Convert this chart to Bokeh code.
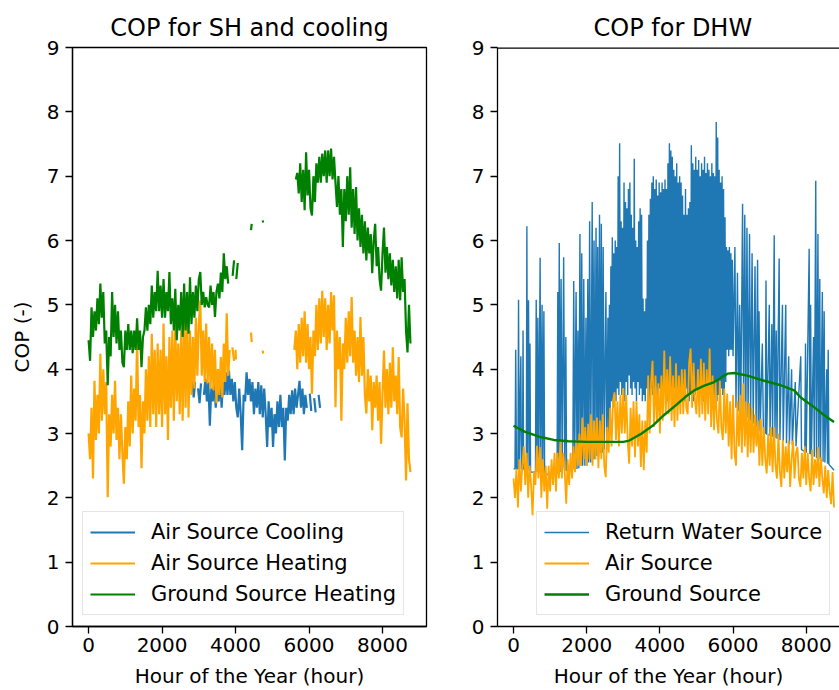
import numpy as np
from bokeh.plotting import figure
from bokeh.layouts import row
from bokeh.models import Range1d, Span, FixedTicker
from bokeh.embed import file_html
from bokeh.resources import INLINE

nan = float("nan")

titles = ["COP for SH and cooling", "COP for DHW"]
x_label = "Hour of the Year (hour)"
y_label = "COP (-)"
x_ticks = [0, 2000, 4000, 6000, 8000]
y_ticks = [0, 1, 2, 3, 4, 5, 6, 7, 8, 9]
left_labels = ["Air Source Cooling", "Air Source Heating", "Ground Source Heating"]
right_labels = ["Return Water Source", "Air Source", "Ground Source"]

# Sampled readings (COP) taken off the picture; each block starts at a given hour
# and has one reading every STEP hours.
STEP = 40

# ---- left panel ----
cool_start = 2820
cool_vals = [
    3.82, 3.56, 3.8, nan, 3.7, 3.47, 3.78, nan, 3.6, 3.85,
    3.5, 3.8, 3.12, 3.7, 3.5, 3.85, 3.4, 3.8, 3.5, 3.9,
    3.4, 3.8, 3.6, 3.95, 3.6, 3.98, 3.6, 3.85, 3.5, 3.8,
    3.4, 3.25, 3.7, 3.3, 2.74, 3.6, 3.5, 3.95, 3.6, 3.85,
    3.5, 3.8, 3.3, 3.7, 3.4, 3.8, 3.3, 3.75, 3.25, 3.7,
    3.3, 2.79, 3.5, 3.1, 3.4, 2.79, 3.3, 3.0, 3.5, 3.1,
    3.6, 3.1, 3.4, 2.58, 3.4, 3.2, 3.6, 3.3, 3.67, 3.3,
    3.7, 3.4, 3.6, 3.82, 3.4, 3.7, 3.3, 3.6, 3.4, nan,
    3.62, 3.35, nan, 3.55, 3.33, nan, 3.6, 3.4,
]

heat_a_start = 0
heat_a_vals = [
    3.0, 2.6, 3.4, 2.3, 3.82, 2.9, 3.6, 3.0, 4.24, 3.2,
    4.0, 3.3, 3.8, 2.01, 3.3, 2.8, 3.6, 3.0, 3.82, 2.9,
    3.4, 2.6, 3.3, 2.7, 2.22, 3.1, 2.6, 3.5, 2.8, 3.9,
    3.0, 3.7, 3.2, 4.45, 3.1, 3.6, 2.46, 3.5, 3.0, 4.0,
    3.2, 4.2, 3.1, 4.55, 3.3, 4.3, 3.1, 4.4, 3.3, 4.3,
    3.1, 4.71, 3.3, 4.2, 2.9, 4.5, 3.4, 4.6, 3.2, 4.71,
    3.5, 4.4, 3.3, 4.6, 3.2, 4.8, 3.4, 4.9, 3.25, 4.6,
    3.6, 4.5, 3.7, 4.8, 3.9, 4.7, 5.07, 3.9, 4.6, 3.8,
    4.71, 3.78, 4.5, 3.7, 4.4, 3.67, 4.3, 3.47, 4.0, 3.6,
    4.19, 3.56, 4.4, 3.8, 4.87, 3.9, 4.3,
]
heat_bits = [(3880, nan), (3913, 4.34), (3960, 4.13), (3980, nan), (4000, 4.3), (4010, 4.15), (4100, nan),
             (4420, 4.57), (4440, 4.42), (4600, nan), (4740, 4.29), (4750, 4.24), (5000, nan)]
heat_b_start = 5600
heat_b_vals = [
    4.3, 4.6, 4.0, 4.7, 4.1, 4.8, 4.2, 4.9, 4.1, 4.7,
    4.0, 4.5, 3.62, 4.6, 4.2, 5.0, 4.3, 5.1, 4.4, 5.22,
    4.5, 5.1, 4.3, 5.0, 4.4, 5.2, 4.6, 5.15, 3.41, 4.6,
    4.0, 4.5, 3.2, 4.4, 4.0, 4.8, 4.1, 4.9, 4.2, 5.12,
    4.1, 4.6, 3.9, 4.5, 3.8, 4.81, 3.9, 4.5, 3.6, 3.31,
    4.0, 3.5, 3.9, 3.05, 3.8, 3.4, 3.9, 3.2, 3.8, 2.84,
    3.6, 4.29, 3.4, 4.0, 3.3, 4.1, 3.4, 4.34, 3.5, 3.9,
    3.3, 4.19, 3.1, 2.94, 3.7, 3.2, 2.27, 3.47, 2.6, 2.4,
]

gs_a_start = 0
gs_a_vals = [
    4.45, 4.13, 4.96, 4.5, 4.9, 4.6, 5.1, 4.7, 5.33, 4.8,
    5.2, 4.4, 4.6, 3.75, 4.5, 4.2, 5.2, 4.5, 5.0, 4.4,
    4.9, 4.3, 4.6, 4.1, 4.03, 4.6, 4.3, 4.7, 4.3, 4.6,
    4.25, 4.6, 4.3, 4.79, 4.3, 4.6, 4.03, 4.5, 4.6, 4.96,
    4.6, 5.0, 4.7, 5.3, 4.8, 5.2, 4.9, 5.53, 4.9, 5.3,
    4.8, 5.4, 4.8, 5.2, 4.9, 5.51, 4.7, 5.1, 4.6, 5.25,
    4.45, 5.0, 4.6, 5.2, 4.5, 5.33, 4.6, 5.2, 4.55, 5.43,
    4.7, 5.2, 4.8, 5.3, 4.9, 5.4, 5.51, 5.0, 5.2, 4.96,
    5.12, 5.0, 4.96, 5.3, 5.0, 5.2, 4.81, 5.2, 5.33, 5.1,
    5.5, 5.2, 5.8, 5.4, 5.6, 5.33,
]
gs_bits = [(3860, nan), (3920, 5.45), (3960, 5.69), (3990, nan), (4020, 5.4), (4060, 5.65), (4200, nan),
           (4420, 6.16), (4440, 6.26), (4600, nan), (4740, 6.31), (4750, 6.28), (5000, nan)]
gs_b_start = 5640
gs_b_vals = [
    6.95, 7.05, 6.73, 7.2, 6.6, 7.1, 6.47, 7.37, 6.7, 7.1,
    6.5, 6.39, 7.0, 6.6, 7.2, 6.9, 7.3, 6.9, 7.35, 7.0,
    7.4, 6.9, 7.4, 7.0, 7.43, 6.95, 7.3, 6.9, 6.52, 7.0,
    6.4, 6.8, 5.9, 6.8, 6.3, 7.0, 6.4, 7.14, 6.2, 6.8,
    6.1, 6.83, 6.0, 6.5, 5.9, 6.4, 5.8, 6.3, 5.69, 6.2,
    5.8, 6.1, 5.49, 6.0, 6.26, 5.6, 5.9, 5.4, 5.22, 5.8,
    6.2, 5.5, 5.9, 5.4, 5.8, 5.3, 5.7, 5.2, 5.6, 5.1,
    5.7, 5.07, 5.74, 5.2, 5.4, 4.6, 4.26, 5.0, 4.4,
]

# ---- right panel ----
rw_winter = [
    (0, 2.45), (40, 2.45), (60, 4.3), (80, 2.45), (120, 2.45), (137, 5.08), (155, 2.45), (200, 4.2), (215, 2.45),
    (245, 2.45), (260, 4.6), (275, 2.45), (350, 2.42), (365, 6.22), (380, 2.42), (410, 5.07), (430, 2.42),
    (450, 4.4), (465, 2.4), (600, 2.4), (620, 5.08), (640, 2.4), (665, 4.8), (690, 2.4), (727, 5.73), (745, 2.4),
    (780, 5.0), (800, 2.4), (830, 4.9), (850, 2.38), (1000, 2.35), (1190, 2.38), (1210, 5.2), (1230, 2.4),
    (1250, 5.96), (1270, 2.4), (1300, 5.4), (1330, 2.4), (1370, 5.74), (1400, 2.42), (1430, 4.5), (1450, 2.42),
    (1620, 2.45), (1645, 5.37), (1670, 2.45), (1710, 5.2), (1735, 2.45), (1760, 4.6), (1785, 2.46), (1815, 6.1),
    (1840, 2.5), (1865, 5.8), (1890, 2.5), (1920, 5.4), (1950, 2.5), (1980, 4.8), (2005, 2.5), (2030, 5.4),
    (2055, 2.55), (2080, 6.3), (2110, 2.55), (2150, 6.6), (2175, 2.6), (2200, 6.0), (2225, 2.6), (2255, 6.2),
    (2280, 2.65), (2300, 5.9), (2325, 2.65), (2350, 6.4), (2375, 2.7), (2400, 6.26), (2425, 2.7), (2450, 5.9),
    (2480, 2.75), (2525, 5.2), (2550, 2.8), (2580, 4.8), (2600, 2.85),
]
rw_summer_start = 2620
rw_summer_step = 20
rw_summer_vals = [
    5.0, 3.3, 5.6, 3.5, 6.05, 3.4, 5.8, 3.6, 6.0, 3.5,
    5.9, 3.7, 7.0, 3.6, 7.51, 3.8, 6.3, 3.6, 6.2, 3.7,
    6.9, 3.5, 6.6, 3.8, 6.5, 3.6, 6.8, 3.9, 6.9, 3.7,
    6.4, 3.6, 6.2, 3.8, 7.27, 3.7, 6.0, 3.5, 5.9, 3.8,
    6.3, 3.6, 6.5, 3.7, 6.4, 3.5, 5.1, 3.6, 4.9, 3.5,
    5.1, 3.7, 6.0, 3.6, 6.4, 3.5, 6.65, 3.7, 6.9, 3.6,
    7.0, 3.5, 6.8, 3.7, 6.95, 3.6, 6.7, 3.5, 6.9, 3.7,
    6.75, 3.6, 6.9, 3.5, 6.8, 3.7, 6.95, 3.6, 6.8, 3.5,
    7.2, 3.6, 7.51, 3.7, 7.4, 3.5, 7.3, 3.6, 7.1, 3.7,
    7.0, 3.5, 7.2, 3.6, 6.9, 3.7, 7.0, 3.5, 6.9, 3.6,
    6.7, 3.6, 6.4, 3.5, 6.8, 3.7, 6.4, 3.6, 6.5, 3.5,
    6.6, 3.6, 7.48, 3.7, 7.2, 3.5, 7.1, 3.6, 7.3, 3.7,
    7.1, 3.6, 7.25, 3.5, 7.0, 3.7, 7.2, 3.6, 7.1, 3.5,
    7.3, 3.6, 7.05, 3.7, 7.2, 3.5, 7.1, 3.6, 7.0, 3.4,
    7.2, 3.6, 7.05, 3.5, 7.0, 3.6, 7.84, 3.5, 7.6, 3.6,
    7.1, 3.5, 6.9, 3.7, 7.0, 3.6, 6.8, 3.6, 6.36, 3.8,
    5.9, 4.3, 5.85, 4.2, 5.9, 4.3, 5.8, 4.3, 5.7, 4.2,
]
rw_autumn = [
    (6050, 5.9), (6080, 3.4), (6120, 5.5), (6150, 3.35), (6180, 5.0), (6210, 3.3), (6260, 6.57), (6290, 3.3),
    (6320, 6.4), (6350, 3.25), (6380, 6.2), (6410, 3.25), (6450, 6.1), (6480, 3.2), (6520, 5.8), (6550, 3.15),
    (6600, 5.6), (6630, 3.1), (6670, 5.7), (6690, 3.05), (6710, 4.9), (6740, 3.03), (6800, 4.4), (6830, 3.0),
    (6880, 3.0), (6900, 5.38), (6920, 2.98), (6990, 5.0), (7010, 2.96), (7060, 4.7), (7080, 2.95), (7125, 6.08),
    (7145, 2.93), (7180, 4.6), (7200, 2.92), (7260, 5.72), (7280, 2.9), (7350, 5.0), (7370, 2.88), (7440, 5.0),
    (7460, 2.85), (7520, 4.2), (7540, 2.83), (7600, 4.0), (7620, 2.82), (7700, 3.8), (7720, 2.8), (7850, 4.2),
    (7870, 2.75), (7960, 2.72), (7980, 4.4), (8000, 2.7), (8080, 5.87), (8100, 2.68), (8120, 5.0), (8140, 2.66),
    (8200, 4.5), (8220, 2.64), (8260, 6.93), (8280, 2.62), (8320, 6.1), (8340, 2.6), (8370, 5.4), (8390, 2.58),
    (8440, 5.2), (8460, 2.56), (8490, 4.9), (8510, 2.55), (8560, 4.0), (8580, 2.53), (8600, 4.3), (8620, 2.52),
    (8760, 2.43),
]

air_start = 0
air_vals = [
    2.3, 2.0, 2.45, 1.85, 2.6, 2.1, 2.5, 2.8, 2.2, 2.7,
    2.0, 2.5, 2.2, 1.73, 2.4, 2.2, 2.81, 2.3, 2.79, 2.0,
    2.6, 2.1, 2.5, 1.83, 2.5, 2.1, 2.6, 2.2, 2.7, 2.1,
    2.7, 2.3, 2.89, 2.3, 2.7, 2.4, 1.91, 2.6, 2.2, 2.7,
    2.3, 2.8, 2.4, 2.9, 2.5, 3.0, 2.5, 3.25, 2.6, 3.1,
    2.5, 3.15, 2.6, 3.3, 2.5, 3.2, 2.6, 3.25, 2.46, 3.2,
    2.6, 3.3, 2.5, 2.32, 3.1, 2.7, 3.4, 2.8, 3.51, 3.64,
    2.9, 3.5, 2.8, 3.6, 3.0, 3.7, 3.0, 3.6, 2.9, 2.53,
    3.4, 2.8, 3.5, 2.63, 3.5, 2.8, 3.3, 2.48, 3.2, 2.43,
    3.2, 2.7, 3.9, 3.0, 3.8, 4.13, 3.1, 3.9, 3.2, 3.78,
    3.0, 3.9, 3.2, 4.29, 3.3, 4.0, 3.3, 4.2, 3.2, 3.9,
    3.1, 4.09, 3.2, 3.9, 3.3, 4.0, 3.3, 4.0, 3.4, 3.3,
    4.1, 4.32, 3.4, 4.1, 3.5, 3.3, 4.0, 3.25, 4.16, 3.3,
    4.1, 3.2, 4.0, 3.3, 4.32, 3.1, 3.9, 3.05, 3.8, 3.2,
    3.0, 3.82, 3.1, 2.9, 3.7, 3.0, 3.62, 2.8, 3.5, 2.6,
    3.6, 2.7, 2.5, 3.5, 2.8, 3.6, 2.7, 3.78, 2.8, 3.5,
    2.63, 3.47, 2.7, 3.4, 2.7, 3.3, 2.8, 3.2, 2.5, 3.23,
    2.5, 3.1, 2.6, 2.38, 3.0, 2.5, 3.1, 2.4, 3.1, 2.5,
    2.3, 3.0, 2.4, 2.17, 2.9, 2.3, 2.8, 2.4, 2.89, 2.17,
    2.6, 2.89, 2.3, 2.7, 2.79, 2.3, 2.17, 2.7, 2.3, 2.8,
    2.2, 2.7, 2.3, 2.1, 2.75, 2.2, 2.6, 2.3, 2.79, 2.17,
    2.63, 2.3, 2.07, 2.5, 2.0, 2.43, 2.1, 1.9, 2.4, 1.85,
]

ground_source = [
    (0, 3.12), (300, 3.03), (700, 2.95), (1100, 2.9), (1500, 2.88), (2000, 2.87), (2500, 2.87), (3000, 2.87),
    (3165, 2.89), (3500, 3.0), (3800, 3.12), (4100, 3.28), (4440, 3.44), (4700, 3.57), (4940, 3.67),
    (5200, 3.74), (5485, 3.8), (5700, 3.88), (5850, 3.93), (6030, 3.94), (6395, 3.9), (6850, 3.82),
    (7305, 3.75), (7670, 3.67), (7850, 3.56), (8215, 3.41), (8500, 3.28), (8760, 3.18),
]

BLUE, ORANGE, GREEN = "#1f77b4", "#ffa500", "#008000"
FONT = "DejaVu Sans"


def block(start, step, vals):
    return [(start + step * i, v) for i, v in enumerate(vals)]


def xy(pairs):
    a = np.array(pairs, dtype=float)
    return a[:, 0], a[:, 1]


as_cooling = block(cool_start, STEP, cool_vals)
as_heating = block(heat_a_start, STEP, heat_a_vals) + heat_bits + block(heat_b_start, STEP, heat_b_vals)
gs_heating = block(gs_a_start, STEP, gs_a_vals) + gs_bits + block(gs_b_start, STEP, gs_b_vals)
return_water = rw_winter + block(rw_summer_start, rw_summer_step, rw_summer_vals) + rw_autumn
air_source = block(air_start, STEP, air_vals)


def make_fig(width, left, right, x_end, title, show_ylabel):
    p = figure(width=width, height=690, output_backend="svg", toolbar_location=None,
               x_range=Range1d(-438, x_end), y_range=Range1d(0, 9),
               min_border_left=left, min_border_right=right, min_border_top=47, min_border_bottom=64)
    p.background_fill_color = "white"
    p.border_fill_color = "white"
    p.grid.visible = False
    p.title.text = title
    p.title.text_font = FONT
    p.title.text_font_size = "24px"
    p.title.text_font_style = "normal"
    p.title.text_color = "black"
    p.title.standoff = 12
    p.xaxis.ticker = FixedTicker(ticks=x_ticks)
    p.yaxis.ticker = FixedTicker(ticks=y_ticks)
    p.xaxis.axis_label = x_label
    if show_ylabel:
        p.yaxis.axis_label = y_label
    for ax in (p.xaxis, p.yaxis):
        ax.axis_label_text_font = FONT
        ax.axis_label_text_font_size = "20px"
        ax.axis_label_text_font_style = "normal"
        ax.axis_label_text_color = "black"
        ax.major_label_text_font = FONT
        ax.major_label_text_font_size = "20px"
        ax.major_label_text_color = "black"
        ax.axis_line_color = "black"
        ax.axis_line_width = 1.3
        ax.major_tick_line_color = "black"
        ax.major_tick_line_width = 1.3
        ax.major_tick_out = 7
        ax.major_tick_in = 0
        ax.minor_tick_line_color = None
    p.xaxis.major_label_standoff = 4
    p.xaxis.axis_label_standoff = 9
    p.yaxis.major_label_standoff = 6
    p.yaxis.axis_label_standoff = 10
    return p


def style_legend(p, loc):
    lg = p.legend[0]
    lg.location = loc
    lg.label_text_font = FONT
    lg.label_text_font_size = "21px"
    lg.label_text_color = "black"
    lg.glyph_width = 45
    lg.glyph_height = 26
    lg.label_height = 26
    lg.label_standoff = 16
    lg.padding = 7
    lg.spacing = 5
    lg.margin = 0
    lg.border_line_color = "#cccccc"
    lg.border_line_width = 1
    lg.background_fill_alpha = 0.8


# left figure: frame from x=72 to x=426
p1 = make_fig(462, 72, 36, 9197, titles[0], True)
p1.title.align = "center"
p1.outline_line_color = "black"
p1.outline_line_width = 1.3
for pairs, col, lab in ((as_cooling, BLUE, left_labels[0]),
                        (as_heating, ORANGE, left_labels[1]),
                        (gs_heating, GREEN, left_labels[2])):
    x, y = xy(pairs)
    p1.line(x, y, line_color=col, line_width=2.2, legend_label=lab)
style_legend(p1, (10, 11))

# right figure: frame from x=497 to the page edge
p2 = make_fig(377, 35, 0, 8909, titles[1], False)
p2.title.align = "left"
p2.title.offset = 96
p2.outline_line_color = None
p2.add_layout(Span(location=9, dimension="width", line_color="black", line_width=2.6))
x, y = xy(return_water)
p2.line(x, y, line_color=BLUE, line_width=1.4, legend_label=right_labels[0])
x, y = xy(air_source)
p2.line(x, y, line_color=ORANGE, line_width=1.8, legend_label=right_labels[1])
x, y = xy(ground_source)
p2.line(x, y, line_color=GREEN, line_width=2.4, legend_label=right_labels[2])
style_legend(p2, (39, 11))

layout = row(p1, p2)
open("out.html", "w").write(file_html(layout, INLINE))
